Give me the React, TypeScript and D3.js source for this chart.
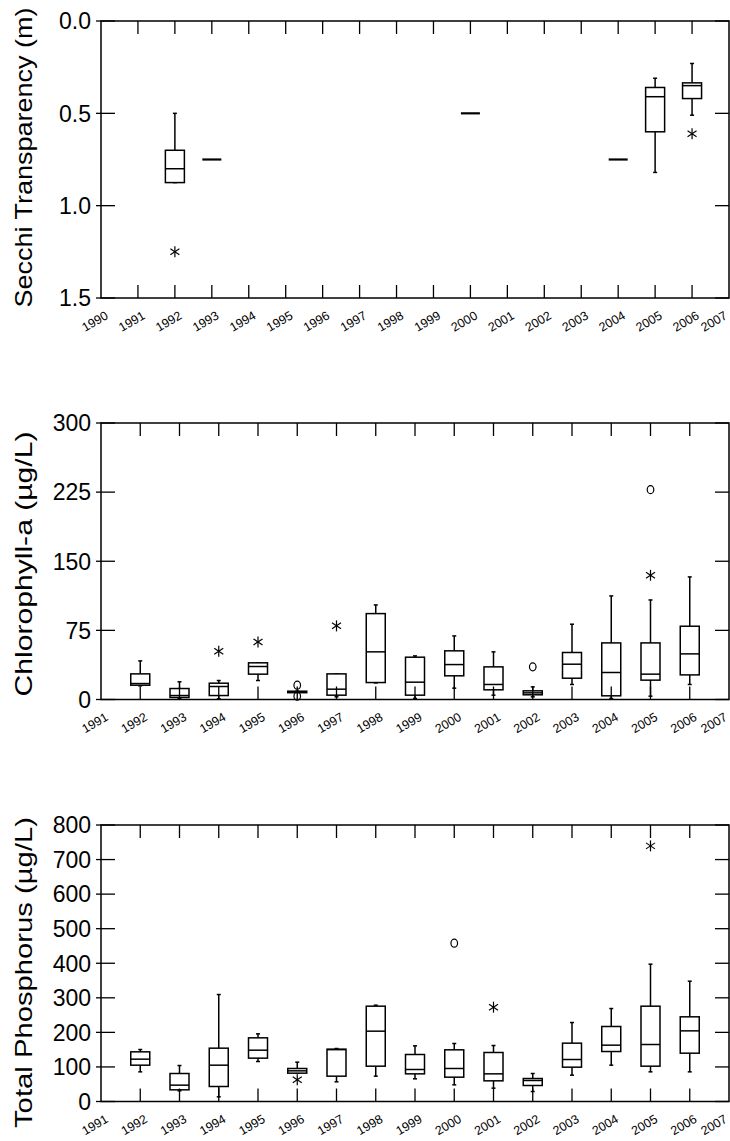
import React from 'react'
import * as d3 from 'd3'

// Secchi transparency (m), axis reversed
const secchiYears = [1992, 1993, 2000, 2004, 2005, 2006]
const secchiLo = [0.5, 0.75, 0.5, 0.75, 0.31, 0.23]
const secchiQ1 = [0.7, 0.75, 0.5, 0.75, 0.36, 0.335]
const secchiMed = [0.8, 0.75, 0.5, 0.75, 0.41, 0.35]
const secchiQ3 = [0.875, 0.75, 0.5, 0.75, 0.6, 0.42]
const secchiHi = [0.875, 0.75, 0.5, 0.75, 0.82, 0.51]
const secchiStars = [[1992, 1.25], [2006, 0.61]]
const secchiCircles = []
const secchiTicks = [0, 0.5, 1.0, 1.5]

// Chlorophyll-a (µg/L)
const chlYears = [1992, 1993, 1994, 1995, 1996, 1997, 1998, 1999, 2000, 2001, 2002, 2003, 2004, 2005, 2006]
const chlLo = [14.8, 1.4, 0.7, 20.6, 8, 2.9, 18, 1.1, 12.3, 4.7, 2.9, 16.3, 1.1, 3.6, 16.3]
const chlQ1 = [15.5, 2.2, 4.3, 27.5, 7.4, 4.7, 18.4, 4.7, 25.7, 10.5, 5.1, 23.1, 4, 21, 26.7]
const chlMed = [17.3, 4.3, 14.1, 35.8, 8, 11.2, 51.7, 18.8, 37.9, 16.3, 7.2, 38.3, 29.3, 27.5, 49.5]
const chlQ3 = [27.8, 11.9, 17.7, 39.8, 9, 27.8, 93.2, 45.9, 52.8, 35.4, 9.4, 51, 61.4, 61.4, 79.5]
const chlHi = [41.9, 19.2, 20.6, 39.8, 9, 27.8, 102.6, 47.3, 69, 51.7, 13.7, 81.7, 112.4, 108, 133]
const chlStars = [[1994, 52.4], [1995, 62.5], [1997, 79.9], [2005, 134.8]]
const chlCircles = [[1996, 15.5], [1996, 3.5], [2002, 35.4], [2005, 227.7]]
const chlTicks = [0, 75, 150, 225, 300]

// Total phosphorus (µg/L)
const tpYears = chlYears
const tpLo = [85.8, 30.9, 13.5, 115.7, 82, 56.9, 73.3, 65.6, 48.2, 38.6, 28.9, 76.2, 105.1, 85.8, 85.8]
const tpQ1 = [105.1, 33.8, 43.4, 125.4, 82, 73.3, 102.2, 80, 70.4, 59.8, 46.3, 99.3, 144.6, 102.2, 139.8]
const tpMed = [122.5, 47.3, 105.1, 148.5, 88.7, 150, 203.5, 92.6, 95.5, 80, 60.8, 121.5, 163, 164.9, 204.4]
const tpQ3 = [143.7, 81, 154.3, 184.2, 95.5, 151.4, 275.8, 136, 149.5, 141.8, 66.5, 168.8, 217, 275.8, 245]
const tpHi = [150.4, 104.1, 309.5, 195.7, 113.8, 153.3, 278.7, 161, 167.8, 162, 81, 228.5, 269, 397.3, 348.1]
const tpStars = [[1996, 62.7], [2001, 272.9], [2005, 739.6]]
const tpCircles = [[2000, 458]]
const tpTicks = [0, 100, 200, 300, 400, 500, 600, 700, 800]

const FONT = 'Liberation Sans, Arial, Helvetica, sans-serif'
const LEFT = 101
const RIGHT = 729
const BOXW = 19

const Star = ({ x, y }) => (
  <g stroke="#000" strokeWidth={1.2}>
    <line x1={x} x2={x} y1={y - 5.5} y2={y + 5.5} />
    <line x1={x - 4.5} x2={x + 4.5} y1={y - 3} y2={y + 3} />
    <line x1={x - 4.5} x2={x + 4.5} y1={y + 3} y2={y - 3} />
  </g>
)

const Panel = ({ top, bottom, domainX, domainY, ticks, fmt, title, titleY, titleLen, years, lo, q1, med, q3, hi, stars, circles }) => {
  const x = d3.scaleLinear().domain(domainX).range([LEFT, RIGHT])
  const y = d3.scaleLinear().domain(domainY).range([bottom, top])
  const yearTicks = d3.range(domainX[0], domainX[1] + 1)
  return (
    <g>
      {/* boxes */}
      {years.map((yr, i) => {
        const cx = x(yr)
        if (q1[i] === q3[i]) {
          return <line key={yr} x1={cx - BOXW / 2} x2={cx + BOXW / 2} y1={y(med[i])} y2={y(med[i])} stroke="#000" strokeWidth={2.2} />
        }
        const yq1 = y(q1[i]), yq3 = y(q3[i])
        return (
          <g key={yr} stroke="#000" strokeWidth={1.5} fill="none">
            <line x1={cx} x2={cx} y1={y(lo[i])} y2={y(q1[i])} />
            <line x1={cx} x2={cx} y1={y(q3[i])} y2={y(hi[i])} />
            <line x1={cx - 2} x2={cx + 2} y1={y(lo[i])} y2={y(lo[i])} />
            <line x1={cx - 2} x2={cx + 2} y1={y(hi[i])} y2={y(hi[i])} />
            <rect x={cx - BOXW / 2} width={BOXW} y={Math.min(yq1, yq3)} height={Math.abs(yq1 - yq3)} fill="#fff" />
            <line x1={cx - BOXW / 2} x2={cx + BOXW / 2} y1={y(med[i])} y2={y(med[i])} />
          </g>
        )
      })}
      {stars.map(([yr, v], i) => <Star key={'s' + i} x={x(yr)} y={y(v)} />)}
      {circles.map(([yr, v], i) => (
        <ellipse key={'c' + i} cx={x(yr)} cy={y(v)} rx={3.3} ry={4} fill="none" stroke="#000" strokeWidth={1.2} />
      ))}
      {/* frame and ticks */}
      <rect x={LEFT} y={top} width={RIGHT - LEFT} height={bottom - top} fill="none" stroke="#000" strokeWidth={1.5} />
      {yearTicks.slice(1, -1).map(yr => (
        <g key={'xt' + yr} stroke="#000" strokeWidth={1.3}>
          <line x1={x(yr)} x2={x(yr)} y1={bottom} y2={bottom - 13} />
          <line x1={x(yr)} x2={x(yr)} y1={top} y2={top + 13} />
        </g>
      ))}
      {ticks.map(t => (
        <g key={'yt' + t} stroke="#000" strokeWidth={1.3}>
          <line x1={LEFT - 5} x2={LEFT + 14} y1={y(t)} y2={y(t)} />
          <line x1={RIGHT - 14} x2={RIGHT} y1={y(t)} y2={y(t)} />
        </g>
      ))}
      {ticks.map(t => (
        <text key={'yl' + t} x={91} y={y(t)} dy="0.36em" textAnchor="end" fontSize={23} fontFamily={FONT} fill="#000">
          {fmt(t)}
        </text>
      ))}
      {yearTicks.map(yr => (
        <text key={'xl' + yr} transform={`translate(${Math.min(x(yr) + 8, 728)},${bottom + 20}) rotate(-30)`} textAnchor="end" fontSize={12.5} fontFamily={FONT} fill="#000">
          {yr}
        </text>
      ))}
      <text transform={`translate(32,${titleY}) rotate(-90)`} textAnchor="middle" fontSize={24} fontFamily={FONT} fill="#000" textLength={titleLen} lengthAdjust="spacingAndGlyphs">
        {title}
      </text>
    </g>
  )
}

export default function App() {
  return (
    <svg width={730} height={1141} style={{ position: 'absolute', left: 0, top: 0, background: '#fff' }}>
      <Panel top={21} bottom={298} domainX={[1990, 2007]} domainY={[1.5, 0]} ticks={secchiTicks} fmt={d3.format('.1f')}
        title="Secchi Transparency (m)" titleY={157.5} titleLen={300}
        years={secchiYears} lo={secchiLo} q1={secchiQ1} med={secchiMed} q3={secchiQ3} hi={secchiHi} stars={secchiStars} circles={secchiCircles} />
      <Panel top={423} bottom={699.5} domainX={[1991, 2007]} domainY={[0, 300]} ticks={chlTicks} fmt={d3.format('d')}
        title="Chlorophyll-a (µg/L)" titleY={564} titleLen={265}
        years={chlYears} lo={chlLo} q1={chlQ1} med={chlMed} q3={chlQ3} hi={chlHi} stars={chlStars} circles={chlCircles} />
      <Panel top={825} bottom={1101.5} domainX={[1991, 2007]} domainY={[0, 800]} ticks={tpTicks} fmt={d3.format('d')}
        title="Total Phosphorus (µg/L)" titleY={972.5} titleLen={311}
        years={tpYears} lo={tpLo} q1={tpQ1} med={tpMed} q3={tpQ3} hi={tpHi} stars={tpStars} circles={tpCircles} />
    </svg>
  )
}
